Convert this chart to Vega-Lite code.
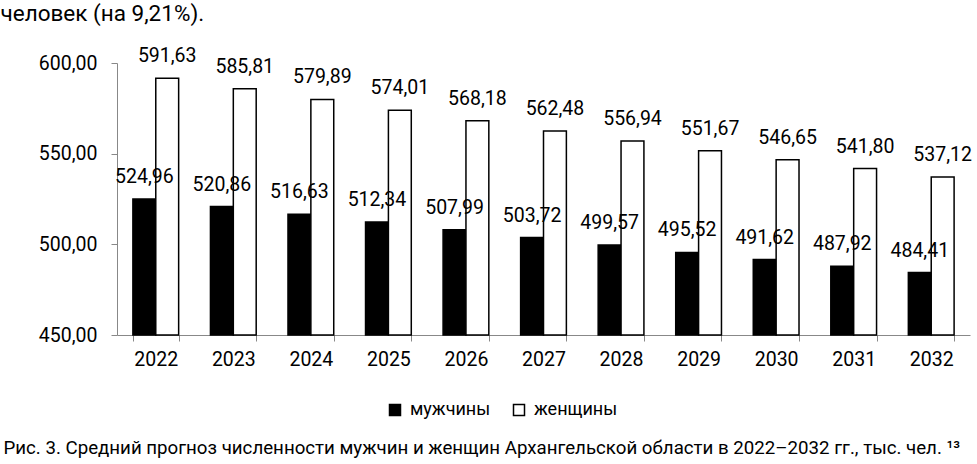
{
  "$schema": "https://vega.github.io/schema/vega-lite/v6.json",
  "width": 853,
  "height": 272,
  "autosize": {"type": "none"},
  "padding": {"left": 117, "top": 63, "right": 7, "bottom": 129},
  "background": "white",
  "config": {
    "locale": {"number": {"decimal": ",", "thousands": " ", "grouping": [3], "currency": ["", ""]}},
    "font": "Roboto",
    "view": {"stroke": null}
  },
  "data": {
    "values": [
      {"year": "2022", "sex": "мужчины", "value": 524.96},
      {"year": "2023", "sex": "мужчины", "value": 520.86},
      {"year": "2024", "sex": "мужчины", "value": 516.63},
      {"year": "2025", "sex": "мужчины", "value": 512.34},
      {"year": "2026", "sex": "мужчины", "value": 507.99},
      {"year": "2027", "sex": "мужчины", "value": 503.72},
      {"year": "2028", "sex": "мужчины", "value": 499.57},
      {"year": "2029", "sex": "мужчины", "value": 495.52},
      {"year": "2030", "sex": "мужчины", "value": 491.62},
      {"year": "2031", "sex": "мужчины", "value": 487.92},
      {"year": "2032", "sex": "мужчины", "value": 484.41},
      {"year": "2022", "sex": "женщины", "value": 591.63},
      {"year": "2023", "sex": "женщины", "value": 585.81},
      {"year": "2024", "sex": "женщины", "value": 579.89},
      {"year": "2025", "sex": "женщины", "value": 574.01},
      {"year": "2026", "sex": "женщины", "value": 568.18},
      {"year": "2027", "sex": "женщины", "value": 562.48},
      {"year": "2028", "sex": "женщины", "value": 556.94},
      {"year": "2029", "sex": "женщины", "value": 551.67},
      {"year": "2030", "sex": "женщины", "value": 546.65},
      {"year": "2031", "sex": "женщины", "value": 541.80},
      {"year": "2032", "sex": "женщины", "value": 537.12}
    ]
  },
  "encoding": {
    "x": {
      "field": "year",
      "type": "ordinal",
      "scale": {"paddingInner": 0.41, "paddingOuter": 0.205},
      "axis": {
        "title": "Рис. 3. Средний прогноз численности мужчин и женщин Архангельской области в 2022–2032 гг., тыс. чел. ¹³",
        "titleX": -114,
        "titleY": 118,
        "titleAlign": "left",
        "titleBaseline": "alphabetic",
        "titleFontSize": 18.7,
        "titleFontWeight": "normal",
        "titleColor": "black",
        "labelAngle": 0,
        "labelFontSize": 19.5,
        "labelColor": "black",
        "labelPadding": 9,
        "tickBand": "extent",
        "tickSize": 6,
        "tickColor": "#888888",
        "domainColor": "#888888"
      }
    },
    "xOffset": {"field": "sex", "type": "nominal", "sort": ["мужчины", "женщины"]},
    "y": {
      "field": "value",
      "type": "quantitative",
      "scale": {"domain": [450, 600], "zero": false, "nice": false},
      "axis": {
        "title": "человек (на 9,21%).",
        "titleAngle": 0,
        "titleX": -117,
        "titleY": -43,
        "titleAlign": "left",
        "titleBaseline": "alphabetic",
        "titleFontSize": 22.5,
        "titleFontWeight": "normal",
        "titleColor": "black",
        "values": [450, 500, 550, 600],
        "format": ".2f",
        "labelFontSize": 19.5,
        "labelColor": "black",
        "labelPadding": 14,
        "tickSize": 6,
        "tickColor": "#888888",
        "domainColor": "#888888",
        "grid": false
      }
    }
  },
  "layer": [
    {
      "mark": {"type": "bar", "stroke": "black", "strokeWidth": 1.5},
      "encoding": {
        "y2": {"datum": 450},
        "fill": {
          "field": "sex",
          "type": "nominal",
          "scale": {"domain": ["мужчины", "женщины"], "range": ["black", "white"]},
          "legend": {
            "title": null,
            "orient": "none",
            "legendX": 269,
            "legendY": 338,
            "direction": "horizontal",
            "symbolType": "square",
            "symbolSize": 121,
            "symbolStrokeColor": "black",
            "symbolStrokeWidth": 1.5,
            "labelFontSize": 18,
            "labelColor": "black",
            "labelOffset": 6,
            "columnPadding": 19
          }
        }
      }
    },
    {
      "mark": {"type": "text", "baseline": "middle", "dy": -22, "fontSize": 19.5, "color": "black"},
      "encoding": {
        "text": {"field": "value", "type": "quantitative", "format": ".2f"}
      }
    }
  ]
}
